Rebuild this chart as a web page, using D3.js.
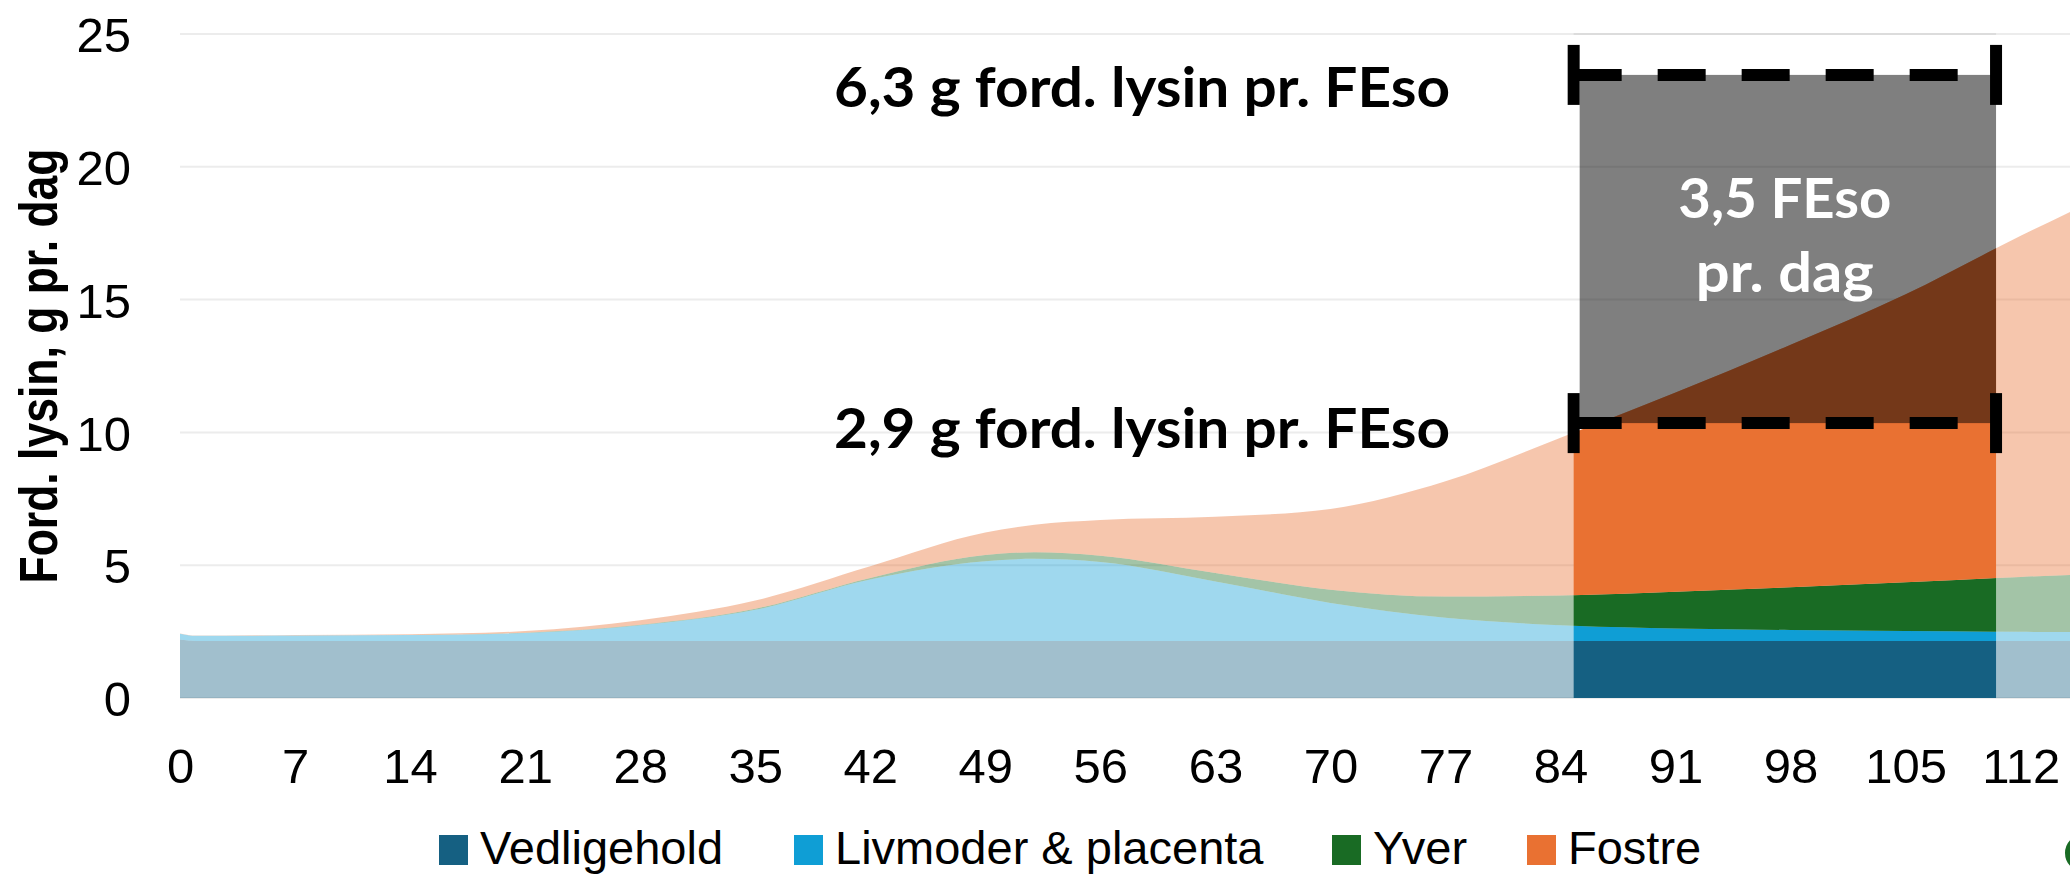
<!DOCTYPE html>
<html>
<head>
<meta charset="utf-8">
<script src="https://cdn.jsdelivr.net/npm/d3@7"></script>
<style>
  body { margin:0; background:#fff; }
  svg { display:block; }
  .tick text { font-family: "Liberation Sans", Arial, sans-serif; font-size: 49px; fill: #000; }
</style>
</head>
<body>
<script>
var width = 2070, height = 876;

// dag i drægtigheden
var days        = [0,    1,    7,    14,   21,   28,   35,   42,   49,   52,   56,   63,   70,   77,   84,   91,   98,   105,   112,   116];
var vedligehold = [2.2,  2.15, 2.15, 2.15, 2.15, 2.15, 2.15, 2.15, 2.15, 2.15, 2.15, 2.15, 2.15, 2.15, 2.15, 2.15, 2.15, 2.15,  2.15,  2.15];
var livmoder    = [0.22, 0.19, 0.20, 0.22, 0.30, 0.59, 1.17, 2.31, 3.00, 3.09, 2.97, 2.24, 1.43, 0.87, 0.59, 0.47, 0.41, 0.37,  0.34,  0.33];
var yver        = [0,    0,    0,    0,    0.01, 0.02, 0.04, 0.06, 0.23, 0.25, 0.24, 0.32, 0.50, 0.80, 1.12, 1.38, 1.61, 1.84,  2.07,  2.18];
var fostre      = [0.01, 0.01, 0.02, 0.03, 0.06, 0.17, 0.31, 0.44, 0.85, 1.03, 1.34, 2.11, 3.04, 4.34, 5.94, 7.50, 9.13, 10.84, 12.84, 13.94];

var seriesNames  = ["Vedligehold", "Livmoder & placenta", "Yver", "Fostre"];
var seriesColors = ["#156082", "#0F9ED5", "#196B24", "#E97132"];
var xTicks = [0, 7, 14, 21, 28, 35, 42, 49, 56, 63, 70, 77, 84, 91, 98, 105, 112];
var yTicks = [0, 5, 10, 15, 20, 25];

// fremhævet periode og lysinniveauer
var highlightDays = [84.8, 110.5];
var upperLevel = 23.46, lowerLevel = 10.35;
var upperLabel = "6,3 g ford. lysin pr. FEso";
var lowerLabel = "2,9 g ford. lysin pr. FEso";
var boxLabel = ["3,5 FEso", "pr. dag"];

var rows = days.map(function(d, i) {
  return { day: d, v0: vedligehold[i], v1: livmoder[i], v2: yver[i], v3: fostre[i] };
});
var keys = ["v0", "v1", "v2", "v3"];
var stacked = d3.stack().keys(keys)(rows);

var x = d3.scaleLinear().domain([0, 115]).range([180, 2070]);
var y = d3.scaleLinear().domain([0, 25]).range([698, 34]);

var svg = d3.select("body").append("svg")
  .attr("width", width)
  .attr("height", height);

var defs = svg.append("defs");
defs.append("clipPath").attr("id", "plotClip")
  .append("rect").attr("x", x(0)).attr("y", 0).attr("width", width - x(0)).attr("height", y(0));
defs.append("clipPath").attr("id", "hlClip")
  .append("rect").attr("x", x(highlightDays[0])).attr("y", 0)
  .attr("width", x(highlightDays[1]) - x(highlightDays[0])).attr("height", y(0));

// gitterlinjer
svg.append("g").selectAll("line")
  .data(yTicks)
  .enter().append("line")
  .attr("x1", x(0)).attr("x2", width)
  .attr("y1", function(d) { return y(d); })
  .attr("y2", function(d) { return y(d); })
  .attr("stroke", "#ececec")
  .attr("stroke-width", 2);

var area = d3.area()
  .curve(d3.curveMonotoneX)
  .x(function(d) { return x(d.data.day); })
  .y0(function(d) { return y(d[0]); })
  .y1(function(d) { return y(d[1]); });

// lyse flader
svg.append("g").attr("clip-path", "url(#plotClip)")
  .selectAll("path")
  .data(stacked)
  .enter().append("path")
  .attr("d", area)
  .attr("fill", function(d, i) { return seriesColors[i]; })
  .attr("fill-opacity", 0.4);

// fulde farver i perioden
svg.append("g").attr("clip-path", "url(#hlClip)")
  .selectAll("path")
  .data(stacked)
  .enter().append("path")
  .attr("d", area)
  .attr("fill", function(d, i) { return seriesColors[i]; });

svg.append("line")
  .attr("x1", x(highlightDays[0])).attr("x2", x(highlightDays[1]))
  .attr("y1", y(25)).attr("y2", y(25))
  .attr("stroke", "#dcdcdc").attr("stroke-width", 2);

// grå boks
svg.append("rect")
  .attr("x", x(highlightDays[0]) + 6)
  .attr("y", y(upperLevel))
  .attr("width", x(highlightDays[1]) - x(highlightDays[0]) - 6)
  .attr("height", y(lowerLevel) - y(upperLevel))
  .attr("fill", "#000")
  .attr("fill-opacity", 0.5);

// stiplede niveaulinjer med endestreger
[upperLevel, lowerLevel].forEach(function(lv) {
  svg.append("line")
    .attr("x1", x(highlightDays[0])).attr("x2", x(highlightDays[1]))
    .attr("y1", y(lv)).attr("y2", y(lv))
    .attr("stroke", "#000").attr("stroke-width", 12)
    .attr("stroke-dasharray", "48 36");
  highlightDays.forEach(function(d) {
    svg.append("line")
      .attr("x1", x(d)).attr("x2", x(d))
      .attr("y1", y(lv) - 30).attr("y2", y(lv) + 30)
      .attr("stroke", "#000").attr("stroke-width", 12);
  });
});

var annFont = "Lato, 'Open Sans', sans-serif";
svg.append("text")
  .attr("x", 834).attr("y", 107)
  .attr("textLength", 616).attr("lengthAdjust", "spacingAndGlyphs")
  .style("font-family", annFont).style("font-weight", 700).style("font-size", "56px")
  .text(upperLabel);
svg.append("text")
  .attr("x", 834).attr("y", 448)
  .attr("textLength", 616).attr("lengthAdjust", "spacingAndGlyphs")
  .style("font-family", annFont).style("font-weight", 700).style("font-size", "56px")
  .text(lowerLabel);

var cx = (x(highlightDays[0]) + x(highlightDays[1])) / 2;
svg.append("text")
  .attr("x", cx).attr("y", 218).attr("text-anchor", "middle")
  .attr("textLength", 213).attr("lengthAdjust", "spacingAndGlyphs")
  .style("font-family", annFont).style("font-weight", 700).style("font-size", "56px")
  .attr("fill", "#fff")
  .text(boxLabel[0]);
svg.append("text")
  .attr("x", cx).attr("y", 292).attr("text-anchor", "middle")
  .attr("textLength", 178).attr("lengthAdjust", "spacingAndGlyphs")
  .style("font-family", annFont).style("font-weight", 700).style("font-size", "56px")
  .attr("fill", "#fff")
  .text(boxLabel[1]);

// akser
var xAxis = svg.append("g")
  .attr("transform", "translate(0," + y(0) + ")")
  .call(d3.axisBottom(x).tickValues(xTicks).tickSize(0).tickFormat(d3.format("d")));
xAxis.select(".domain").remove();
xAxis.selectAll("text").attr("y", 85).attr("dy", 0);

var yAxis = svg.append("g")
  .attr("transform", "translate(131,0)")
  .call(d3.axisLeft(y).tickValues(yTicks).tickSize(0).tickPadding(0));
yAxis.select(".domain").remove();
yAxis.selectAll("text").attr("dy", "0.36em");

svg.append("text")
  .attr("transform", "translate(57,366) rotate(-90)")
  .attr("text-anchor", "middle")
  .attr("textLength", 435).attr("lengthAdjust", "spacingAndGlyphs")
  .style("font-family", "'Liberation Sans Narrow', 'Liberation Sans', Arial, sans-serif")
  .style("font-weight", 700).style("font-size", "54px")
  .text("Ford. lysin, g pr. dag");

// forklaring
var legendX = [439, 794, 1332, 1527];
var legend = svg.append("g").selectAll("g")
  .data(seriesNames)
  .enter().append("g")
  .attr("transform", function(d, i) { return "translate(" + legendX[i] + ",0)"; });
legend.append("rect")
  .attr("x", 0).attr("y", 835).attr("width", 29).attr("height", 30)
  .attr("fill", function(d, i) { return seriesColors[i]; });
legend.append("text")
  .attr("x", 41).attr("y", 864)
  .style("font-family", "'Liberation Sans', Arial, sans-serif")
  .style("font-size", "47px")
  .text(function(d) { return d; });

// afskåret element i højre kant
svg.append("circle")
  .attr("cx", 2084).attr("cy", 853).attr("r", 16)
  .attr("fill", "none").attr("stroke", "#196B24").attr("stroke-width", 6);
</script>
</body>
</html>
